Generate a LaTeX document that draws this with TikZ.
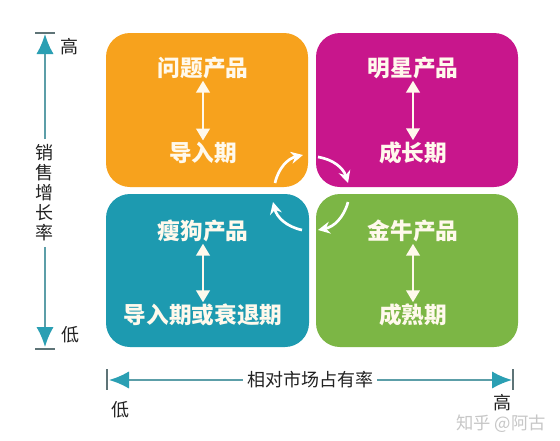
\documentclass[tikz,border=0pt]{standalone}
\usepackage{fontspec}
\setmainfont{Noto Sans CJK SC}
\usetikzlibrary{arrows.meta,positioning}
\definecolor{qorange}{HTML}{F7A21D}
\definecolor{qmagenta}{HTML}{C8168C}
\definecolor{qteal}{HTML}{1D9AB0}
\definecolor{qgreen}{HTML}{7CB645}
\definecolor{boxtext}{HTML}{FFF9EC}
\definecolor{axisline}{HTML}{5C9EA8}
\definecolor{axishead}{HTML}{2A9FB3}
\definecolor{bargray}{HTML}{5E7477}
\definecolor{axistext}{HTML}{222222}
\tikzset{
    quad/.style={rounded corners=18pt},
    lbl/.style={text=boxtext, inner sep=1pt, font=\bfseries\fontsize{17}{19}\selectfont},
    updown/.style={draw=boxtext, line width=2.2pt,
        {Triangle[length=9pt,width=10pt]}-{Triangle[length=9pt,width=10pt]}},
    turn/.style={draw=white, line width=2pt, -{Stealth[length=9pt,width=9pt]}, bend left=32},
    axis/.style={draw=axisline, line width=1.5pt, -{Latex[length=15pt,width=13pt,color=axishead]}},
    bar/.style={draw=bargray, line width=1pt},
    axtext/.style={text=axistext, font=\fontsize{13.5}{15}\selectfont}
}
\begin{document}
\begin{tikzpicture}[x=0.75pt, y=-0.75pt]
    \useasboundingbox[fill=white] (0,0) rectangle (560,440);
    \fill[qorange, quad] (106,33) rectangle (308,187);
    \fill[qmagenta, quad] (316,33) rectangle (518,187);
    \fill[qteal, quad] (106,194) rectangle (309,347);
    \fill[qgreen, quad] (316,194) rectangle (518,347);

    \node[lbl] (q1) at (203,68) {问题产品};
    \node[lbl] (q2) at (203,153) {导入期};
    \node[lbl] (s1) at (413,68) {明星产品};
    \node[lbl] (s2) at (413,153) {成长期};
    \node[lbl] (d1) at (203,231) {瘦狗产品};
    \node[lbl] (d2) at (203,315) {导入期或衰退期};
    \node[lbl] (c1) at (413,231) {金牛产品};
    \node[lbl] (c2) at (413,315) {成熟期};
    \draw[updown] (q1) -- (q2);
    \draw[updown] (s1) -- (s2);
    \draw[updown] (d1) -- (d2);
    \draw[updown] (c1) -- (c2);

    \coordinate (qa) at (275,183);
    \coordinate (qb) at (303,155);
    \coordinate (sa) at (318,157);
    \coordinate (sb) at (348,183);
    \coordinate (ca) at (348,202);
    \coordinate (cb) at (318,230);
    \coordinate (da) at (302,230);
    \coordinate (db) at (273,202);
    \draw[turn] (qa) to (qb);
    \draw[turn] (sa) to (sb);
    \draw[turn] (ca) to (cb);
    \draw[turn] (da) to (db);

    \node[axtext, align=center, inner sep=4pt] (ylab) at (45,193) {销\\售\\增\\长\\率};
    \coordinate (ytop) at (45,34);
    \coordinate (ybot) at (45,347);
    \draw[axis] (ylab) -- (ytop);
    \draw[axis] (ylab) -- (ybot);
    \draw[bar] (35,33) -- (55,33);
    \draw[bar] (35,349) -- (55,349);
    \node[axtext] (yhi) at (69,47) {高};
    \node[axtext] (ylo) at (70,335) {低};

    \node[axtext, inner sep=3pt] (xlab) at (310,380) {相对市场占有率};
    \coordinate (xleft) at (109,380);
    \coordinate (xright) at (512,380);
    \draw[axis] (xlab) -- (xleft);
    \draw[axis] (xlab) -- (xright);
    \draw[bar] (107,369) -- (107,390);
    \draw[bar] (513,369) -- (513,390);
    \node[axtext] (xlo) at (120,410) {低};
    \node[axtext, inner sep=0pt] (xhi) at (502,403) {高};

    \node[text=black!22, inner sep=0pt, font=\fontsize{13}{14}\selectfont] (mark) at (501,424) {知乎 @阿古};
\end{tikzpicture}
\end{document}
